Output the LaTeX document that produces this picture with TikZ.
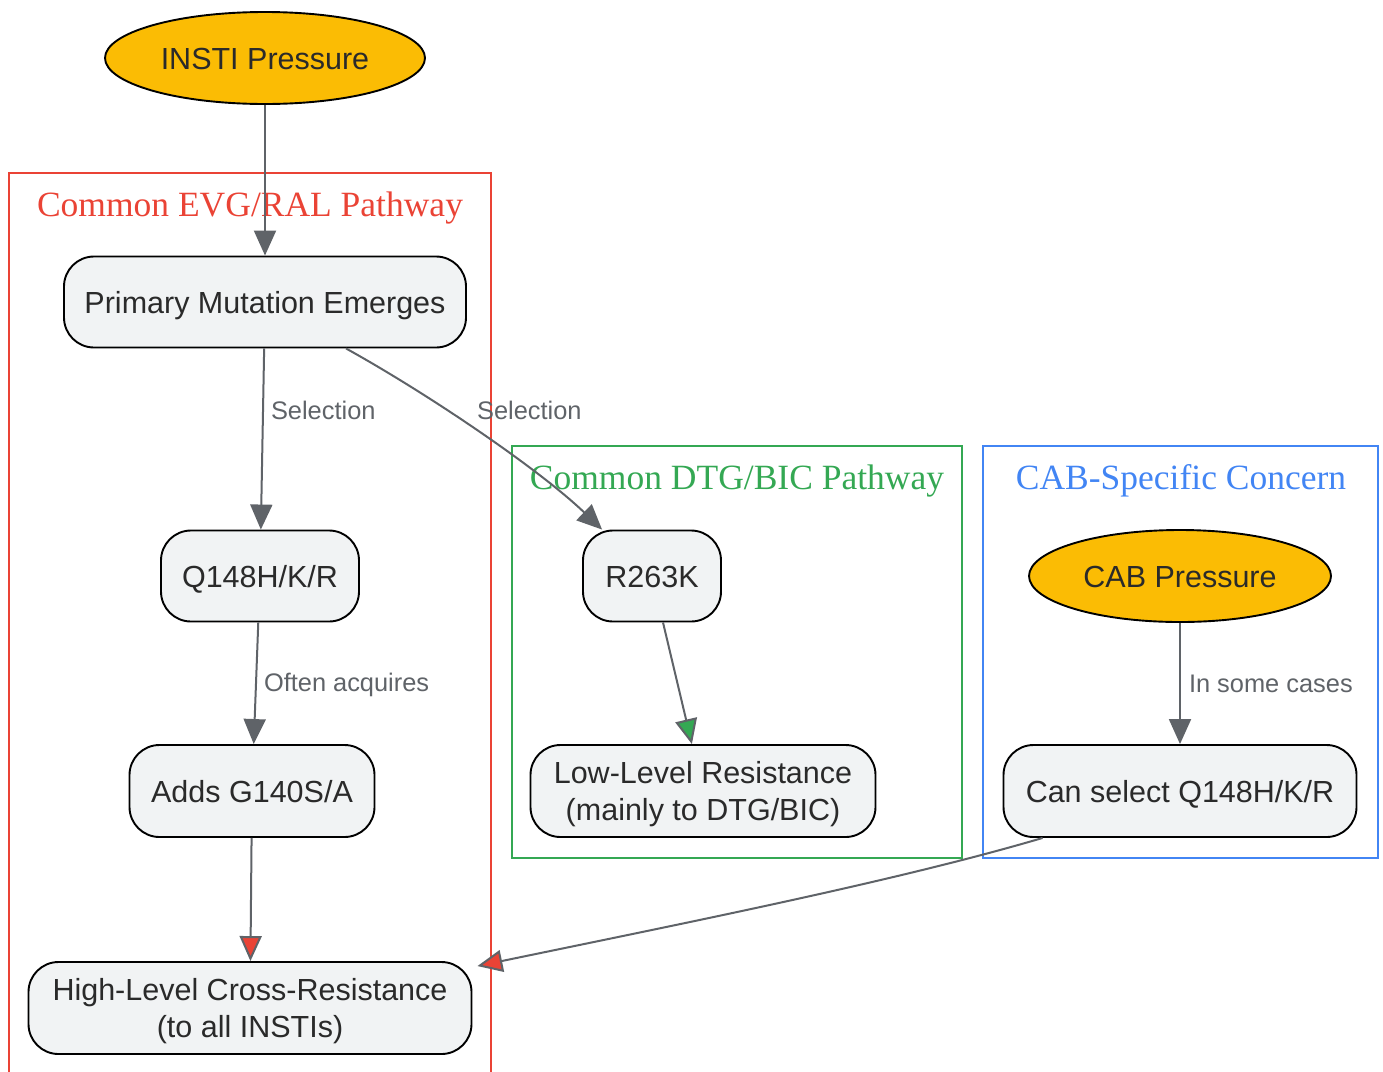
\documentclass[tikz,border=0pt]{standalone}
\usepackage{fontspec}
\setmainfont{Liberation Sans}
\newfontfamily\titlefont{Liberation Serif}
\usetikzlibrary{arrows.meta,shapes.geometric}

\definecolor{evgred}{HTML}{EA4335}
\definecolor{dtggreen}{HTML}{34A853}
\definecolor{cabblue}{HTML}{4285F4}
\definecolor{pressfill}{HTML}{FBBC04}
\definecolor{boxfill}{HTML}{F1F3F4}
\definecolor{edgegray}{HTML}{5F6368}
\definecolor{boxtext}{HTML}{2A2A2A}

\begin{document}
\begin{tikzpicture}[
		x=1pt, y=-1pt,
		box/.style={draw, line width=1.9pt, rounded corners=30pt, fill=boxfill, align=center, text=boxtext,
			inner sep=0pt, text height=22pt, text depth=0pt, font=\fontsize{30.5}{36.5}\selectfont},
		twoline/.style={text height=58.5pt},
		pressure/.style={ellipse, draw, line width=1.9pt, fill=pressfill, inner sep=0pt, text=boxtext,
			text height=22pt, text depth=0pt, font=\fontsize{30.5}{36.5}\selectfont},
		cluster/.style={line width=1.8pt},
		ctitle/.style={font=\titlefont\fontsize{35.5}{40}\selectfont},
		edge/.style={draw=edgegray, line width=2pt},
		arr/.style={-{Triangle[length=25pt,width=22pt,fill=#1]}},
		arr/.default=edgegray,
		lbl/.style={font=\fontsize{25.4}{30}\selectfont, text=edgegray, anchor=west, inner sep=0pt}]
	\useasboundingbox (0,0) rectangle (1383,1071);
	%% define clusters
	\draw[cluster, draw=evgred] (9,173) rectangle (491,1090);
	\node[ctitle, text=evgred] (evgt) at (250,208) {Common EVG/RAL Pathway};
	\draw[cluster, draw=dtggreen] (512,446) rectangle (962,858);
	\node[ctitle, text=dtggreen] (dtgt) at (737,481) {Common DTG/BIC Pathway};
	\draw[cluster, draw=cabblue] (983,446) rectangle (1378,858);
	\node[ctitle, text=cabblue] (cabt) at (1181,481) {CAB-Specific Concern};
	%% define nodes
	\node (insti) at (265,58) [pressure, minimum width=320pt, minimum height=92pt] {INSTI Pressure};
	\node (pme) at (265,302) [box, minimum width=402pt, minimum height=91pt] {Primary Mutation Emerges};
	\node (q148) at (260,576) [box, minimum width=198pt, minimum height=91pt] {Q148H/K/R};
	\node (g140) at (252,791) [box, minimum width=245pt, minimum height=92pt] {Adds G140S/A};
	\node (high) at (250,1008) [box, twoline, minimum width=443pt, minimum height=92pt] {High-Level Cross-Resistance\\(to all INSTIs)};
	\node (r263k) at (652,576) [box, minimum width=138pt, minimum height=91pt] {R263K};
	\node (low) at (703,791) [box, twoline, minimum width=345pt, minimum height=92pt] {Low-Level Resistance\\(mainly to DTG/BIC)};
	\node (cab) at (1180,576) [pressure, minimum width=302pt, minimum height=92pt] {CAB Pressure};
	\node (cansel) at (1180,791) [box, minimum width=353pt, minimum height=92pt] {Can select Q148H/K/R};
	%% define arrows
	\draw[edge, arr] (insti) -- (pme);
	\draw[edge, arr] (pme) -- (q148) node[lbl, pos=0.34, xshift=7pt] {Selection};
	\draw[edge, arr] ([xshift=81pt]pme.south) .. controls (430,395) and (540,470) .. ([xshift=20pt]r263k.north west)
		node[lbl, pos=0.42, xshift=16pt, yshift=8pt] {Selection};
	\draw[edge, arr] (q148) -- (g140) node[lbl, pos=0.5, xshift=7pt, yshift=-2pt] {Often acquires};
	\draw[edge, arr=evgred] (g140) -- (high);
	\draw[edge, arr=dtggreen] (r263k) -- (low);
	\draw[edge, arr] (cab) -- (cansel) node[lbl, pos=0.5, xshift=8pt] {In some cases};
	\draw[edge, arr=evgred] ([xshift=40pt]cansel.south west) .. controls (900,880) and (700,920) .. ([xshift=5pt,yshift=-5pt]high.north east);
\end{tikzpicture}
\end{document}
